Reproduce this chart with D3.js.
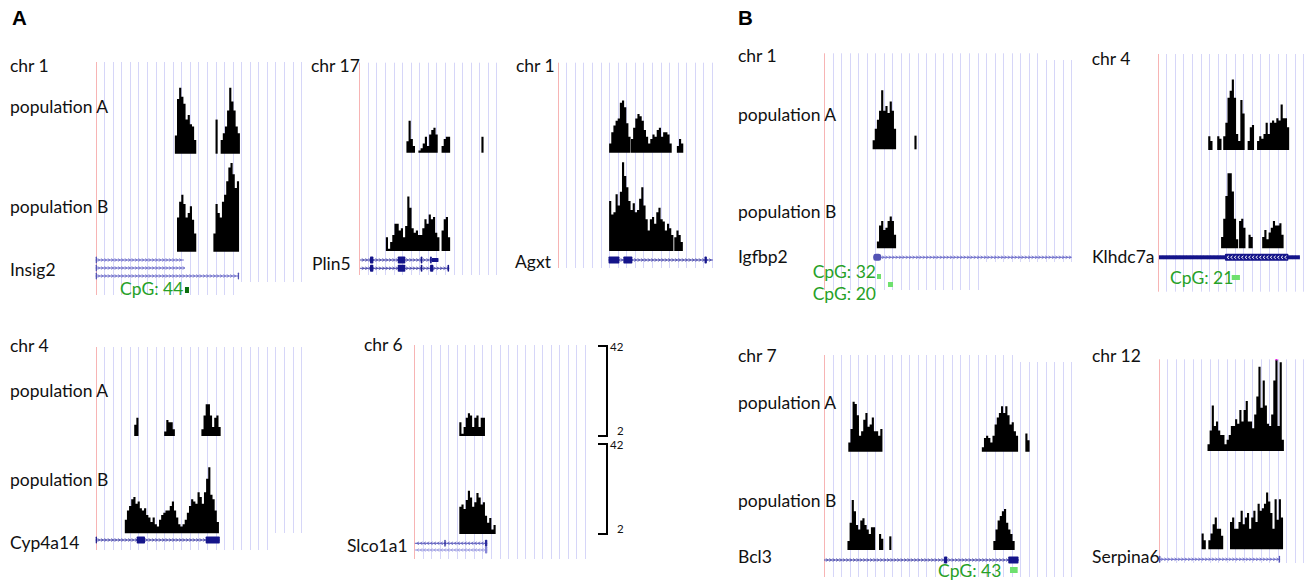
<!DOCTYPE html>
<html><head><meta charset="utf-8">
<script src="https://cdn.jsdelivr.net/npm/d3@7"></script>
<style>body{margin:0;background:#fff} text{font-family:Lato,"Open Sans",sans-serif}</style>
</head><body>
<svg id="c" width="1311" height="584"></svg>
<script>
// ---------------- DATA ----------------
const panelLetters = ["A", "B"];
const genes = ["Insig2","Plin5","Agxt","Cyp4a14","Slco1a1","Igfbp2","Klhdc7a","Bcl3","Serpina6"];
const chromosomes = ["chr 1","chr 17","chr 1","chr 4","chr 6","chr 1","chr 4","chr 7","chr 12"];
const windowUnits = [24,16,18,24,20,29,17,29,17];   // window width in grid intervals
const trackNames = ["population A","population B"];
const binWidth = 0.25;                               // bin size in grid intervals
const signalRange = [2, 42];
const scaleTicks = [42, 2];

// signal segments: [start position, bin values...]
const popA_Insig2 = [[9.25,[10,26,31,27,24,17,19,15,14,8]],[14.0,[17]],[14.6,[8,11,14,21,31,25,21,14,11]]];
const popB_Insig2 = [[9.5,[17,24,27,23,17,19,22,16,10]],[13.75,[10,23,19,17,24,27,33,39,41,36,30,33]]];
const popA_Plin5 = [[5.5,[7,16,8,5]],[6.9,[3,4,6,9,5,10,12,13,10]],[9.6,[5,8,9,9]],[14.25,[9]]];
const popB_Plin5 = [[3.1,[8,3,6,9,14,14,11,12,8,13,26,21,12,10,11,9,9,12,16,14,18,16,17,10,8]],[9.6,[11,16,17,8]]];
const popA_Agxt = [[6.0,[6,11,14,16,17,24,25,22,15,9]],[8.55,[8,13,17,19,18,16,12,9,6,8,10,9,12,13,9,11,11,10,6]],[13.9,[5,8,6]]];
const popB_Agxt = [[6.0,[24,18,19,27,22,28,41,35,30,24,20,23,19,20,25,30,22,16,11,16,17,14,19,21,16,15,11,14,12,9]],[13.6,[8,11,9,6]]];
const popA_Cyp4a14 = [[4.5,[7,10]],[8.0,[4,9,8,8,5]],[12.35,[5,11,16,16,11,6,10,11,6]]];
const popB_Cyp4a14 = [[3.4,[8,12,14,17,18,15,16,13,12,13,10,9,7,9,6,5,8,10,11,12,12,14,16,12,9,6,5,6,8,11,14,17,16,15,20,18,15,20,26,31,19,17,12,7]]];
const popA_Slco1a1 = [[5.3,[8,3,6,10,12,11,6,10,11,6,10,10]]];
const popB_Slco1a1 = [[5.3,[14,15,13,17,21,18,14,16,20,18,15,16,10,7,9,4,6]]];
const popA_Igfbp2 = [[5.7,[6,11,15,19,28,19,21,18,23,19,11]],[10.6,[8]]];
const popB_Igfbp2 = [[6.2,[5,12,14,10,11,14,16,14,8]]];
const popA_Klhdc7a = [[5.9,[8,6]],[6.95,[8,7]],[7.65,[8,14,25,28,33,25,9,6,24,18]],[10.5,[6,12,13]],[11.6,[6,8,7,9,14,9,14,15,14,16,15,22,16,16,12]]];
const popB_Klhdc7a = [[7.4,[7,15,25,35,35,27,15,6]],[9.5,[14,15,11]],[10.6,[8,7]],[12.2,[7,10,6,9,11,14,12,12,13,8]]];
const popA_Bcl3 = [[2.85,[6,12,24,23,18,9,11,16,19,13,14,17,11,11,9,12]],[18.5,[4,8,9,8,6,9,14,17,19,22,19,22,18,14,15,11,9]],[23.6,[10,7]]];
const popB_Bcl3 = [[2.75,[6,14,24,19,13,11,15,16,13,11,9,12,12]],[6.45,[9,7]],[7.65,[8]],[19.85,[6,11,15,17,19,20,14,11,9,6]]];
const popA_Serpina6 = [[5.75,[5,11,22,13,15,11,9,9,5,7,9,13,13,16,14,20,15,20,24,15,15,12,18,26,39,21,33,22,14,13,18,33,42,13,41,7]]];
const popB_Serpina6 = [[5.05,[9,6]],[5.85,[6,9,13,16,11,11,8]],[8.4,[14,16,11,11,14,19,13,16,18,11,16,19,14,22,19,20,22,27,23,18,11,24,15,24,16]]];

// gene models (positions in grid intervals)
const model_Insig2 = [{start:0,end:10.3,exons:[[0,0.15]],strand:1},{start:0,end:10.4,exons:[[0,0.15]],strand:1},{start:0,end:16.75,exons:[[0,0.15],[16.6,16.75]],strand:1}];
const model_Plin5 = [{start:0.08,end:9.23,exons:[[1.25,1.64],[4.49,5.37],[7.17,7.36],[8.26,8.45]],utr:[[8.45,9.23]],strand:1},{start:0.08,end:10.48,exons:[[1.25,1.64],[4.49,5.37],[7.17,7.36],[8.26,8.64],[10.3,10.48]],strand:1}];
const model_Agxt = [{start:5.93,end:18.1,exons:[[5.93,7.2],[7.66,8.71],[17.13,17.4]],strand:1}];
const model_Cyp4a14 = [{start:0,end:14.5,exons:[[0,0.1],[4.79,5.76],[12.85,14.5]],strand:1}];
const model_Slco1a1 = [{start:0.1,end:8.57,exons:[[3.55,3.7],[8.3,8.57]],strand:-1},{start:0.1,end:8.57,exons:[[8.3,8.57]],strand:-1}];
const model_Igfbp2 = [{start:5.78,end:29,exons:[[5.78,6.7]],strand:1}];
const model_Klhdc7a = [{start:0.15,end:16.6,utr:[[0.15,16.6]],exons:[[7.86,15.25]],strand:-1,innerArrows:true}];
const model_Bcl3 = [{start:0,end:22.8,exons:[[14.07,14.45],[21.6,22.8]],strand:1}];
const model_Serpina6 = [{start:0.04,end:14.3,exons:[[0.04,0.2],[14.15,14.3]],strand:1}];

// CpG islands: panel index, label, [start, end]
const cpgPanels = [0, 5, 5, 6, 7];
const cpgLabels = ["CpG: 44","CpG: 32","CpG: 20","CpG: 21","CpG: 43"];
const cpgRanges = [[10.43,10.9],[6.21,6.68],[7.5,8.09],[8.64,9.6],[21.8,22.7]];

const signalsA = [popA_Insig2,popA_Plin5,popA_Agxt,popA_Cyp4a14,popA_Slco1a1,popA_Igfbp2,popA_Klhdc7a,popA_Bcl3,popA_Serpina6];
const signalsB = [popB_Insig2,popB_Plin5,popB_Agxt,popB_Cyp4a14,popB_Slco1a1,popB_Igfbp2,popB_Klhdc7a,popB_Bcl3,popB_Serpina6];
const models = [model_Insig2,model_Plin5,model_Agxt,model_Cyp4a14,model_Slco1a1,model_Igfbp2,model_Klhdc7a,model_Bcl3,model_Serpina6];

// ---------------- LAYOUT ----------------
const layout = [
 {x0:95.7,x1:301.1,top:62,baseA:153.7,baseB:251.7,geneY:260,rowGap:8,gridBottom:295,cutB:16,bottom2:282,chr:[10,72],popA:[10,113],popB:[10,213],gene:[10,276],light:true},
 {x0:359.3,x1:496.4,top:62.7,baseA:152.7,baseB:251,geneY:260,rowGap:8.3,gridBottom:275,chr:[311,71.7],gene:[312,270]},
 {x0:557.7,x1:712,top:62.7,baseA:152.7,baseB:251,geneY:260,gridBottom:268,chr:[516,72],gene:[515,268]},
 {x0:95.7,x1:301.1,top:347,baseA:436,baseB:533.3,geneY:540,gridBottom:550,cutB:20,bottom2:533,chr:[10,352],popA:[10,396.7],popB:[10,486],gene:[10,549]},
 {x0:414,x1:585,top:345,baseA:436,baseB:534,geneY:543.3,rowGap:6.7,gridBottom:559,chr:[402.7,350.7,"end"],gene:[347,551.7],bracket:607,light:true},
 {x0:824,x1:1071.4,top:53.3,cutT:25,top2:60,baseA:149.3,baseB:248.3,geneY:257.3,gridBottom:290,cutB:18,bottom2:262,chr:[738,61.7],popA:[738,120.7],popB:[738,218],gene:[738,263.3],light:true},
 {x0:1157.7,x1:1303.3,top:54,baseA:150,baseB:248.3,geneY:257.3,gridBottom:291.7,chr:[1091.7,65],gene:[1092,263.3]},
 {x0:824,x1:1071.4,top:355,cutT:22,top2:362,baseA:451.7,baseB:550,geneY:560,gridBottom:577,chr:[738,361.7],popA:[738,409],popB:[738,506.7],gene:[738,563.3]},
 {x0:1158.7,x1:1303,top:359.3,baseA:451,baseB:549.3,geneY:559.3,gridBottom:563,chr:[1092,361.7],gene:[1092,563.3],light:true}
];
const cpgText = [[120,294.7],[812.7,278],[812.7,300],[1170,284],[938,576.7]];
const cpgRectY = [[287,6],[274,5],[282,5],[275,5],[567,6]];
const trackH = 91;

const svg = d3.select("#c");
const FS = 17.5;

// panel letters
svg.selectAll(".pl").data(panelLetters).join("text")
  .attr("x",(d,i)=>i===0?12:738).attr("y",25)
  .style("font-family","'Liberation Sans',Arial,sans-serif")
  .attr("font-weight","bold").attr("font-size",20.5).attr("fill","#000").text(d=>d);

const xs = [];
layout.forEach((L,pi)=>{
  const g = svg.append("g");
  const x = d3.scaleLinear().domain([0,windowUnits[pi]]).range([L.x0,L.x1]);
  xs.push(x);
  // grid
  const units = d3.range(1,windowUnits[pi]+1);
  g.selectAll(".gl").data(units).join("line")
    .attr("x1",d=>Math.round(x(d))+0.5).attr("x2",d=>Math.round(x(d))+0.5)
    .attr("y1",d=>(L.cutT!==undefined && d>L.cutT)?L.top2:L.top)
    .attr("y2",d=>(L.cutB!==undefined && d>L.cutB)?L.bottom2:L.gridBottom)
    .attr("stroke","#d6d6f8").attr("stroke-width",1);
  g.append("line").attr("x1",Math.round(x(0))+0.5).attr("x2",Math.round(x(0))+0.5)
    .attr("y1",L.top).attr("y2",L.gridBottom).attr("stroke","#f7b4b4").attr("stroke-width",1);

  // signals
  [[signalsA[pi],L.baseA],[signalsB[pi],L.baseB]].forEach(([segs,base])=>{
    const y = d3.scaleLinear().domain(signalRange).range([base, base-trackH]);
    const area = d3.area().x(d=>x(d.p)).y0(base).y1(d=>y(d.v)).curve(d3.curveStepAfter);
    segs.forEach(([s,vals])=>{
      const pts = vals.map((v,i)=>({p:s+i*binWidth,v}));
      pts.push({p:s+vals.length*binWidth,v:vals[vals.length-1]});
      g.append("path").attr("d",area(pts)).attr("fill","#000");
      vals.forEach((v,i)=>{ if(v>=signalRange[1]) g.append("rect").attr("x",x(s+i*binWidth)).attr("y",y(v)-1)
        .attr("width",x(s+(i+1)*binWidth)-x(s+i*binWidth)).attr("height",1.5).attr("fill","#e020e0"); });
    });
  });

  // gene model
  const exonCol = L.light ? "#5252b4" : "#14148a";
  const lineCol = L.light ? "#6a6ac8" : "#4646aa";
  models[pi].forEach((t,ri)=>{
    const yy = L.geneY + ri*(L.rowGap||8);
    let ec = exonCol, lc = lineCol;
    if (pi===4 && ri===1){ ec="#8686d6"; lc="#9a9ae0"; }
    if (pi===4 && ri===0){ ec="#2c2c9c"; lc="#5a5abc"; }
    g.append("line").attr("x1",x(t.start)).attr("x2",x(t.end)).attr("y1",yy).attr("y2",yy)
      .attr("stroke",lc).attr("stroke-width",1);
    const xa=x(t.start), xb=x(t.end);
    let p="";
    for(let cx=xa+3; cx<xb-1; cx+=3.4){
      const d=t.strand*1.2;
      p+=`M${cx-d},${yy-1.4}L${cx+d},${yy}L${cx-d},${yy+1.4}`;
    }
    g.append("path").attr("d",p).attr("fill","none").attr("stroke",lc).attr("stroke-width",0.8);
    (t.utr||[]).forEach(([a,b])=>{
      g.append("rect").attr("x",x(a)).attr("y",yy-2).attr("width",x(b)-x(a)).attr("height",4).attr("fill",ec);
    });
    t.exons.forEach(([a,b])=>{
      g.append("rect").attr("x",x(a)).attr("y",yy-3.5).attr("width",Math.max(1.2,x(b)-x(a))).attr("height",7)
        .attr("rx",(pi===5)?2.5:0.8).attr("fill",ec);
      if(t.innerArrows){
        let q="";
        for(let cx=x(a)+3; cx<x(b)-1.5; cx+=3.6){
          q+=`M${cx+1},${yy-1.5}L${cx-1},${yy}L${cx+1},${yy+1.5}`;
        }
        g.append("path").attr("d",q).attr("fill","none").attr("stroke","#ffffff").attr("stroke-width",0.9);
      }
    });
  });

  // labels
  const lab = (pos,txt)=>{ if(!pos) return; g.append("text").attr("x",pos[0]).attr("y",pos[1])
      .attr("text-anchor",pos[2]||"start").attr("font-size",FS).attr("fill","#111").text(txt); };
  lab(L.chr, chromosomes[pi]);
  lab(L.popA, trackNames[0]);
  lab(L.popB, trackNames[1]);
  lab(L.gene, genes[pi]);

  // data range bracket
  if(L.bracket){
    [L.baseA,L.baseB].forEach(base=>{
      const y = d3.scaleLinear().domain(signalRange).range([base, base-trackH+1]);
      const bx=L.bracket;
      g.append("path").attr("d",`M${bx-9},${y(scaleTicks[0])}H${bx}V${y(scaleTicks[1])}H${bx-9}`)
        .attr("fill","none").attr("stroke","#000").attr("stroke-width",2);
      g.selectAll(null).data(scaleTicks).join("text")
        .attr("x",(d)=>d>9?bx+3:bx+10).attr("y",d=>d>9?y(d)+5:y(d)-1).attr("font-size",11.5).attr("fill","#111").text(d=>d);
    });
  }
});

// CpG islands
cpgLabels.forEach((lbl,i)=>{
  const x = xs[cpgPanels[i]];
  svg.append("text").attr("x",cpgText[i][0]).attr("y",cpgText[i][1]).attr("font-size",FS)
    .attr("fill","#27a127").text(lbl);
  const r = cpgRanges[i];
  svg.append("rect").attr("x",x(r[0])).attr("y",cpgRectY[i][0]).attr("width",x(r[1])-x(r[0]))
    .attr("height",cpgRectY[i][1]).attr("fill",i===0?"#0c6e0c":"#6ee06e");
});
</script>
</body></html>
